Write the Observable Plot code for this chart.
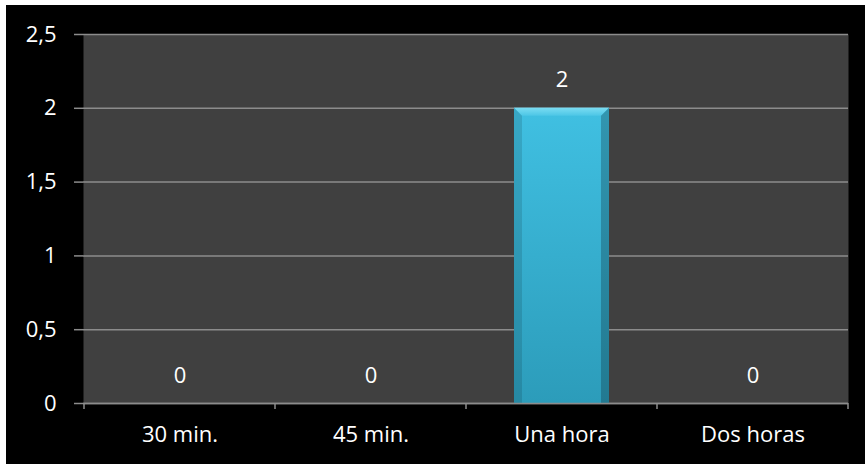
<!DOCTYPE html>
<html>
<head>
<meta charset="utf-8">
<script src="https://cdn.jsdelivr.net/npm/d3@7"></script>
<script src="https://cdn.jsdelivr.net/npm/@observablehq/plot@0.6"></script>
<style>
  html, body { margin: 0; padding: 0; background: #ffffff; }
  #wrap { position: absolute; left: 6px; top: 5px; width: 859px; height: 459px; background: #000000; }
  svg { display: block; }
</style>
</head>
<body>
<div id="wrap"></div>
<script>
const categories = ["30 min.", "45 min.", "Una hora", "Dos horas"];
const values = [0, 0, 2, 0];
const yTicks = [0, 0.5, 1, 1.5, 2, 2.5];

const data = categories.map((c, i) => ({cat: c, val: values[i]}));
const fmt = d => String(d).replace(".", ",");
const FONT = "'Open Sans', 'Noto Sans', sans-serif";

const boundaryTicks = (index, scales, values, dims) => {
  const g = d3.create("svg:g");
  const bw = scales.x.bandwidth();
  const xs = categories.map(c => scales.x(c)).concat([scales.x(categories[categories.length - 1]) + bw]);
  const y0 = dims.height - dims.marginBottom;
  for (const x of xs) {
    g.append("line").attr("x1", x).attr("x2", x).attr("y1", y0).attr("y2", y0 + 6)
      .attr("stroke", "#8c8c8c").attr("stroke-width", 1.5);
  }
  return g.node();
};

// bevel on top of each non-zero bar
const bevel = (index, scales, values, dims) => {
  const g = d3.create("svg:g");
  const bw = scales.x.bandwidth();
  const inset = 48, b = 8;
  data.filter(d => d.val > 0).forEach(d => {
    const x1 = scales.x(d.cat) + inset, x2 = scales.x(d.cat) + bw - inset;
    const yt = scales.y(d.val), yb = scales.y(0);
    g.append("polygon").attr("points", `${x1},${yt} ${x2},${yt} ${x2 - b},${yt + b} ${x1 + b},${yt + b}`).attr("fill", "url(#topGrad)");
    g.append("polygon").attr("points", `${x1},${yt} ${x1 + b},${yt + b} ${x1 + b},${yb} ${x1},${yb}`).attr("fill", "#000").attr("fill-opacity", 0.12);
    g.append("polygon").attr("points", `${x2},${yt} ${x2 - b},${yt + b} ${x2 - b},${yb} ${x2},${yb}`).attr("fill", "#000").attr("fill-opacity", 0.22);
  });
  return g.node();
};

const plot = Plot.plot({
  width: 859,
  height: 459,
  marginLeft: 77,
  marginTop: 29,
  marginRight: 17,
  marginBottom: 61,
  style: {background: "#000000", fontFamily: FONT, fontSize: "22px"},
  x: {domain: categories, padding: 0, label: null},
  y: {domain: [0, 2.5], label: null},
  marks: [
    Plot.frame({fill: "#404040", stroke: null}),
    Plot.ruleY(yTicks, {stroke: "#8c8c8c", strokeWidth: 1.5}),
    Plot.barY(data, {x: "cat", y: "val", fill: "url(#barGrad)", insetLeft: 48, insetRight: 48}),
    bevel,
    Plot.text(data, {x: "cat", y: "val", text: d => fmt(d.val), dy: -28, fill: "#ffffff", fontSize: 22, fontFamily: FONT}),
    Plot.axisY({ticks: yTicks, tickFormat: fmt, tickSize: 9, tickPadding: 18, stroke: "#8c8c8c", color: "#ffffff", fontSize: 22, fontFamily: FONT, strokeWidth: 1.5}),
    Plot.axisX({tickSize: 0, tickPadding: 23, color: "#ffffff", fontSize: 22, fontFamily: FONT}),
    Plot.ruleY([0], {stroke: "#8c8c8c", strokeWidth: 1.5}),
    boundaryTicks
  ]
});

const defs = d3.select(plot).insert("defs", ":first-child");
const g1 = defs.append("linearGradient").attr("id", "barGrad").attr("x1", 0).attr("x2", 0).attr("y1", 0).attr("y2", 1);
[[0, "#40c0e2"], [1, "#2c9cba"]].forEach(([o, c]) =>
  g1.append("stop").attr("offset", o).attr("stop-color", c));
const g2 = defs.append("linearGradient").attr("id", "topGrad").attr("x1", 0).attr("x2", 0).attr("y1", 0).attr("y2", 1);
[[0, "#7adcf2"], [1, "#4cc6e6"]].forEach(([o, c]) => g2.append("stop").attr("offset", o).attr("stop-color", c));

document.getElementById("wrap").appendChild(plot);
</script>
</body>
</html>
